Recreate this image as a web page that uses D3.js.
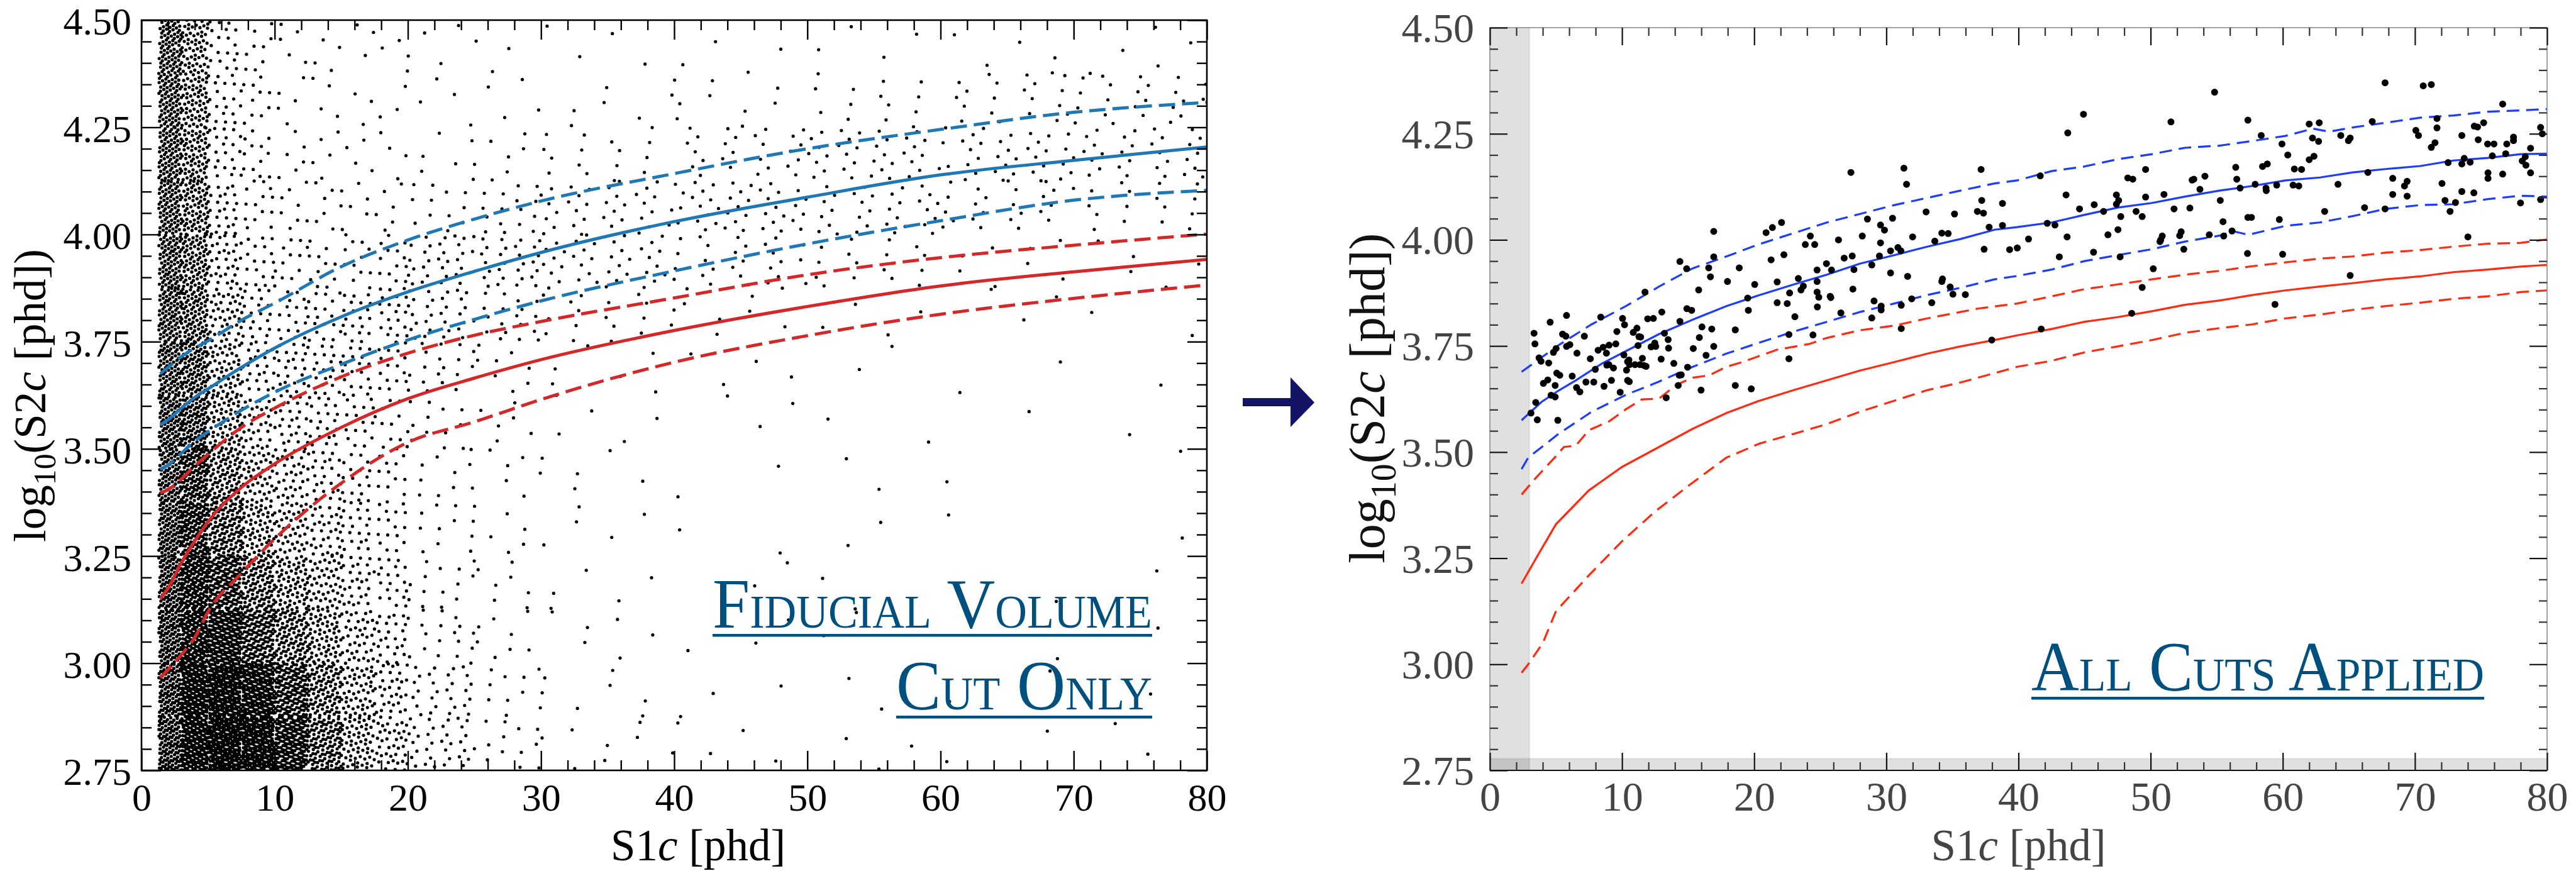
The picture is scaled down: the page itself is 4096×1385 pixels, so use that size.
<!DOCTYPE html>
<html>
<head>
<meta charset="utf-8">
<script src="https://cdn.jsdelivr.net/npm/d3@7"></script>
<style>
  html, body { margin: 0; padding: 0; background: #fff; overflow: hidden; }
  svg { display: block; }
  text { font-family: "Liberation Serif", "Times New Roman", serif; }
</style>
</head>
<body>
<svg id="chart" width="4096" height="1385"></svg>
<script>
// ---- axis ticks ----
const xMajor = [0, 10, 20, 30, 40, 50, 60, 70, 80];
const yMajor = [2.75, 3.00, 3.25, 3.50, 3.75, 4.00, 4.25, 4.50];

// ---- left panel: event density (dots per cell) ----
const leftXEdges = [1.3, 3, 5, 7.5, 10, 12.5, 15, 17.5, 20, 25, 30, 40, 50, 60, 70, 80];
const leftYEdges = [2.75, 2.875, 3.0, 3.125, 3.25, 3.375, 3.5, 3.625, 3.75, 3.875, 4.0, 4.125, 4.25, 4.375, 4.5];
const leftCounts = [
  [125, 200, 250, 240, 190, 120, 65, 40, 34, 12, 8, 4, 3, 2, 2],
  [125, 200, 240, 215, 160, 100, 55, 34, 28, 10, 7, 3, 2, 2, 1],
  [120, 185, 200, 150, 105, 70, 40, 25, 18, 8, 6, 3, 2, 1, 1],
  [115, 170, 165, 110, 75, 50, 30, 20, 14, 7, 5, 2, 2, 1, 1],
  [110, 155, 120, 70, 48, 34, 22, 16, 11, 6, 5, 2, 2, 1, 1],
  [105, 140, 95, 50, 36, 26, 18, 13, 10, 6, 5, 2, 2, 1, 1],
  [100, 120, 70, 36, 28, 22, 16, 12, 12, 6, 5, 3, 2, 1, 1],
  [95, 105, 56, 28, 24, 22, 20, 16, 18, 8, 6, 4, 2, 2, 1],
  [90, 92, 44, 22, 18, 18, 20, 20, 30, 18, 18, 8, 4, 3, 2],
  [88, 82, 34, 17, 12, 11, 12, 13, 30, 28, 40, 26, 16, 8, 5],
  [86, 75, 27, 14, 8, 7, 6, 6, 12, 16, 36, 42, 32, 24, 16],
  [86, 70, 22, 12, 6, 5, 4, 4, 6, 7, 16, 26, 36, 36, 30],
  [86, 66, 20, 10, 5, 4, 3, 3, 4, 4, 6, 9, 14, 20, 24],
  [84, 62, 18, 9, 5, 4, 3, 3, 4, 3, 4, 4, 4, 5, 5]
];

// ---- left panel bands (smooth) ----
const leftBandX = [1.4, 2, 3, 4, 5, 7.5, 10, 15, 20, 25, 30, 40, 50, 60, 70, 80];
const leftBlueUp  = [3.675, 3.69, 3.715, 3.735, 3.752, 3.80, 3.84, 3.925, 3.987, 4.036, 4.078, 4.142, 4.200, 4.245, 4.285, 4.308];
const leftBlueMid = [3.556, 3.568, 3.595, 3.62, 3.64, 3.69, 3.735, 3.808, 3.866, 3.914, 3.958, 4.030, 4.087, 4.139, 4.173, 4.204];
const leftBlueLo  = [3.452, 3.462, 3.49, 3.518, 3.54, 3.59, 3.632, 3.697, 3.754, 3.802, 3.845, 3.915, 3.978, 4.032, 4.080, 4.103];
const leftRedUp   = [3.397, 3.405, 3.43, 3.46, 3.487, 3.55, 3.595, 3.668, 3.723, 3.765, 3.797, 3.852, 3.906, 3.946, 3.975, 4.001];
const leftRedMid  = [3.15, 3.175, 3.235, 3.285, 3.33, 3.41, 3.465, 3.55, 3.617, 3.665, 3.708, 3.776, 3.832, 3.88, 3.913, 3.942];
const leftRedLo   = [2.966, 2.985, 3.02, 3.06, 3.12, 3.21, 3.29, 3.42, 3.515, 3.563, 3.615, 3.702, 3.764, 3.814, 3.851, 3.882];

// ---- right panel bands (binned, jagged) ----
const rightBlueUp = [[2.4,3.689],[5.2,3.752],[7.7,3.801],[10.3,3.844],[12.8,3.890],[15.35,3.933],[17.9,3.961],[20.4,3.990],[23,4.016],[25.5,4.041],[28,4.061],[30.6,4.082],[33.1,4.099],[35.6,4.116],[38.2,4.133],[39.9,4.14],[42.5,4.162],[45,4.173],[47.5,4.19],[50.1,4.202],[52.6,4.217],[55.2,4.222],[57.7,4.233],[60.2,4.245],[62.3,4.262],[63.5,4.255],[65.3,4.265],[67.8,4.276],[70.4,4.288],[72.9,4.293],[75.5,4.302],[78,4.305],[80,4.308]];
const rightBlueMid = [[2.4,3.575],[3.9,3.618],[5.2,3.645],[6.5,3.669],[8.5,3.709],[10.3,3.738],[12.8,3.778],[15.35,3.812],[17.9,3.844],[20.4,3.870],[23,3.895],[25.5,3.918],[28,3.944],[30.6,3.964],[33.1,3.984],[35.6,4.002],[38.2,4.024],[39.9,4.03],[42.5,4.041],[45,4.059],[47.5,4.076],[50.1,4.087],[52.6,4.102],[55.2,4.116],[57.7,4.127],[60.2,4.14],[62.8,4.147],[65.3,4.159],[67.8,4.167],[70.4,4.174],[72.9,4.187],[75.5,4.193],[78,4.202],[80,4.203]];
const rightBlueLo = [[2.4,3.46],[2.9,3.487],[5.2,3.543],[7.7,3.595],[10.3,3.635],[12.8,3.666],[15.35,3.701],[17.9,3.732],[20.4,3.758],[23,3.784],[25.5,3.807],[28,3.83],[30.6,3.85],[33.1,3.87],[35.6,3.887],[38.2,3.907],[39.9,3.915],[42.5,3.93],[45,3.95],[47.5,3.964],[50.1,3.978],[52.6,3.996],[55.2,4.01],[56.3,4.02],[57.4,4.012],[60.2,4.033],[62.8,4.041],[65.3,4.056],[67.8,4.073],[70.4,4.082],[72.9,4.084],[75.5,4.096],[78,4.104],[80,4.102]];
const rightRedUp = [[2.4,3.40],[3.5,3.44],[4.9,3.487],[5.6,3.512],[6.5,3.515],[7.5,3.552],[9,3.572],[10.3,3.601],[11.5,3.624],[12.8,3.626],[14.1,3.658],[15.3,3.675],[16.6,3.681],[17.9,3.701],[19.1,3.712],[21.7,3.741],[24.2,3.755],[25.5,3.769],[28,3.787],[30.6,3.798],[33.1,3.815],[35.6,3.83],[36.9,3.838],[39.9,3.85],[42.5,3.867],[45,3.884],[47.5,3.895],[50.1,3.907],[52.6,3.918],[55.2,3.927],[57.7,3.938],[60.2,3.947],[62.8,3.956],[65.3,3.961],[67.8,3.97],[70.4,3.976],[72.9,3.984],[75.5,3.991],[78,3.993],[80,4.001]];
const rightRedMid = [[2.4,3.19],[3.5,3.25],[5,3.33],[7.5,3.41],[10,3.465],[12.8,3.512],[15.35,3.555],[17.9,3.592],[20.4,3.621],[23,3.646],[25.5,3.669],[28,3.692],[30.6,3.712],[33.1,3.732],[35.6,3.749],[38.2,3.764],[39.9,3.775],[42.5,3.79],[45,3.807],[47.5,3.818],[50.1,3.832],[52.6,3.847],[55.2,3.857],[57.7,3.87],[60.2,3.881],[62.8,3.89],[65.3,3.898],[67.8,3.907],[70.4,3.914],[72.9,3.924],[75.5,3.93],[78,3.937],[80,3.941]];
const rightRedLo = [[2.4,2.98],[2.9,3.0],[4,3.05],[5,3.125],[7.5,3.21],[10,3.29],[12.5,3.36],[15,3.42],[17.9,3.487],[20.4,3.52],[23,3.543],[25.5,3.566],[28,3.595],[30.6,3.621],[33.1,3.646],[35.6,3.664],[38.2,3.686],[39.9,3.701],[42.5,3.715],[45,3.735],[47.5,3.749],[50.1,3.764],[52.6,3.781],[55.2,3.792],[57.7,3.801],[60.2,3.815],[62.8,3.824],[65.3,3.835],[67.8,3.844],[70.4,3.852],[72.9,3.861],[75.5,3.867],[78,3.877],[80,3.881]];

// ---- right panel: events after all cuts ----
const rightEvents = [
  [3.34,3.78],[3.41,3.755],[3.11,3.592],[3.59,3.576],[3.47,3.617],[3.72,3.722],[3.87,3.714],[4.05,3.662],[4.38,3.67],[4.45,3.71],
  [4.56,3.806],[4.81,3.735],[5.01,3.744],[4.94,3.657],[4.63,3.634],[4.94,3.63],[5.06,3.686],[5.29,3.681],[5.14,3.575],[5.5,3.778],
  [5.75,3.773],[5.8,3.822],[5.8,3.749],[6.05,3.753],[6.23,3.679],[6.59,3.733],[6.56,3.652],[6.81,3.642],[7.15,3.773],[7.27,3.665],
  [7.6,3.72],[7.86,3.665],[7.98,3.695],[8.19,3.74],[8.39,3.818],[8.57,3.747],[8.64,3.655],[8.82,3.733],[8.85,3.705],[9.02,3.752],
  [9.0,3.706],[9.2,3.669],[9.35,3.698],[9.53,3.755],[9.61,3.784],[9.86,3.641],[10.04,3.815],[10.19,3.8],[10.14,3.729],[10.34,3.693],
  [10.42,3.713],[10.42,3.669],[10.52,3.717],[10.55,3.666],[10.57,3.706],[10.85,3.782],[10.98,3.706],[11.13,3.792],[11.21,3.751],[11.28,3.772],
  [11.36,3.706],[11.41,3.771],[11.54,3.721],[11.66,3.704],[11.82,3.702],[11.74,3.877],[11.94,3.814],[12.2,3.748],[12.37,3.815],[12.48,3.757],
  [12.55,3.749],[12.96,3.719],[13.01,3.83],[13.21,3.78],[13.34,3.628],[13.49,3.765],[13.52,3.745],[13.92,3.709],[14.25,3.657],[14.33,3.681],
  [14.38,3.808],[14.48,3.682],[14.38,3.949],[14.89,3.932],[14.96,3.7],[14.91,3.838],[15.27,3.834],[15.39,3.744],[15.8,3.882],[15.85,3.77],
  [15.98,3.646],[16.05,3.795],[16.36,3.728],[16.56,3.934],[16.69,3.913],[16.79,3.79],[16.94,3.749],[16.94,3.96],[16.94,4.02],[17.98,3.902],
  [18.57,3.788],[18.57,3.657],[18.87,3.934],[19.51,3.863],[19.56,3.834],[19.78,3.649],[20.04,3.895],[20.9,4.017],[21.28,3.953],[21.38,4.029],
  [21.74,3.901],[21.74,3.852],[22.07,4.041],[22.25,3.965],[22.5,3.85],[22.63,3.777],[22.63,3.72],[22.68,3.875],[23.08,3.819],[23.34,3.909],
  [23.54,3.882],[23.72,3.891],[23.87,3.989],[24.25,4.009],[24.45,3.776],[24.58,3.989],[24.76,3.929],[24.76,3.902],[24.76,3.877],[24.78,3.842],
  [24.89,3.865],[25.47,3.944],[25.75,3.867],[25.85,3.929],[25.8,3.864],[26.38,4.0],[26.56,3.828],[26.81,3.957],[27.32,4.159],[27.42,3.962],
  [27.47,3.884],[27.55,3.93],[28.18,4.009],[28.57,4.049],[28.9,3.941],[28.9,3.816],[29.07,3.856],[29.48,3.962],[29.56,4.035],[29.56,3.993],
  [29.61,3.844],[29.61,3.835],[29.86,4.023],[30.32,3.922],[30.32,3.974],[30.47,4.051],[30.88,3.982],[31.1,3.974],[31.13,3.846],[31.13,3.791],
  [31.33,4.169],[31.53,4.131],[31.61,3.914],[31.92,3.861],[31.99,4.007],[33.01,4.066],[33.44,3.852],[33.67,3.997],[34.2,4.016],[34.2,3.902],
  [34.25,3.908],[34.68,4.015],[34.83,3.889],[35.04,3.872],[35.16,4.061],[35.98,3.871],[36.89,4.067],[37.17,4.166],[37.22,4.093],[37.35,4.063],
  [37.4,3.978],[37.78,4.03],[37.98,3.764],[38.79,4.086],[38.79,4.034],[39.33,3.977],[39.91,3.981],
  [40.76,4.002],[41.65,4.151],[42.18,4.039],[42.76,4.035],[43.09,3.96],[43.6,4.106],[43.68,4.007],[43.73,4.252],[44.62,4.073],[44.92,4.296],
  [45.73,4.083],[45.68,3.971],[46.44,4.067],[46.77,4.012],[47.41,4.106],[47.41,4.084],[47.58,4.093],[47.53,4.024],[47.74,4.055],[47.69,3.96],
  [48.27,4.146],[48.65,4.143],[48.9,4.067],[49.36,4.055],[49.62,4.166],[49.62,4.101],[50.2,3.932],[49.36,3.888],[48.57,3.827],[41.72,3.79],
  [50.71,3.996],[50.76,4.0],[50.88,4.009],[51.01,4.107],[51.54,4.278],[51.77,4.073],[52.2,4.01],[52.31,4.019],[52.51,3.978],[52.97,4.075],
  [53.14,4.141],[53.27,4.143],[53.73,4.119],[54.11,4.15],[54.44,4.012],[54.84,4.348],[55.27,4.093],[55.48,4.043],[55.53,4.009],[56.16,4.021],
  [56.44,4.171],[56.52,4.143],[56.77,4.122],[57.36,4.282],[57.36,4.053],[57.63,4.053],[57.33,3.968],[57.91,4.131],[58.37,4.246],[58.47,4.173],
  [58.75,4.116],[58.83,4.179],[58.73,4.122],[59.41,3.848],[59.54,4.129],[59.74,4.048],[59.94,4.226],[59.99,3.966],[60.38,4.2],[60.78,4.129],
  [60.88,4.167],[61.21,4.127],[61.42,4.166],[62.0,4.273],[62.0,4.189],[62.36,4.197],[62.25,4.24],[62.71,4.232],[62.76,4.276],[63.17,4.067],
  [64.18,4.131],[64.39,4.246],[64.97,4.234],[65.1,4.24],[65.1,3.916],[66.19,4.076],[66.44,4.159],[66.77,4.279],[67.74,4.37],[67.74,4.073],
  [68.32,4.145],[68.32,4.107],[69.21,4.127],[69.41,4.138],[69.41,4.103],[70.07,4.258],[70.27,4.246],[70.63,4.363],[71.24,4.366],[71.24,4.218],
  [71.52,4.229],[71.67,4.264],[71.67,4.286],[72.05,4.133],[72.28,4.093],[72.51,4.182],[72.66,4.067],[73.07,4.088],[73.55,4.246],[73.55,4.114],
  [73.55,4.179],[73.73,4.192],[74.01,4.007],[74.18,4.183],[74.46,4.111],[74.49,4.268],[74.74,4.266],[74.79,4.236],[75.2,4.276],[75.5,4.226],
  [75.53,4.158],[75.53,4.145],[75.86,4.198],[75.98,4.226],[76.64,4.32],[76.64,4.155],[76.87,4.203],[76.95,4.226],[77.46,4.242],[77.46,4.234],
  [77.99,4.087],[78.12,4.186],[78.35,4.196],[78.4,4.176],[78.75,4.216],[78.75,4.158],[79.51,4.265],[79.51,4.095],[79.64,4.25]
];

// S1c / log10 S2 threshold shading in the right panel
const s1Threshold = 3;
const s2Threshold = 2.778;

const svg = d3.select('#chart');
const fmt = d3.format('.2f');
const xMinor = d3.range(0, 81, 2).filter(v => v % 10 !== 0);
const yMinor = d3.range(0, 36).filter(i => i % 5 !== 0).map(i => 2.75 + i * 0.05);

const xL = d3.scaleLinear().domain([0, 80]).range([225, 1919]);
const yL = d3.scaleLinear().domain([2.75, 4.5]).range([1225, 32]);
const xR = d3.scaleLinear().domain([0, 80]).range([2369, 4050]);
const yR = d3.scaleLinear().domain([2.75, 4.5]).range([1225, 44]);

function addClip(id, x, y) {
    svg.append('clipPath').attr('id', id)
        .append('rect')
            .attr('x', x.range()[0]).attr('y', y.range()[1])
            .attr('width', x.range()[1] - x.range()[0])
            .attr('height', y.range()[0] - y.range()[1]);
}
addClip('clipL', xL, yL);
addClip('clipR', xR, yR);

function frameAxes(x, y, st) {
    const [x0, x1] = x.range(), [y1, y0] = y.range();
    const g = svg.append('g');
    ['Bottom', 'Top', 'Left', 'Right'].forEach(function(side) {
        const horiz = side === 'Bottom' || side === 'Top';
        const sc = horiz ? x : y;
        const tx = side === 'Right' ? x1 : (side === 'Left' ? x0 : 0);
        const ty = side === 'Bottom' ? y1 : (side === 'Top' ? y0 : 0);
        const gMin = g.append('g').attr('transform', 'translate(' + tx + ',' + ty + ')')
            .call(d3['axis' + side](sc).tickValues(horiz ? xMinor : yMinor).tickSize(-st.minLen).tickFormat(''));
        const gMaj = g.append('g').attr('transform', 'translate(' + tx + ',' + ty + ')')
            .call(d3['axis' + side](sc).tickValues(horiz ? xMajor : yMajor).tickSize(-st.majLen)
                .tickFormat(side === 'Bottom' ? d3.format('d') : (side === 'Left' ? fmt : '')));
        [gMin, gMaj].forEach(a => a.select('.domain').remove());
        gMin.selectAll('line').attr('stroke', st.minColor).attr('stroke-width', st.tickW);
        gMaj.selectAll('line').attr('stroke', st.majColor).attr('stroke-width', st.tickW);
        if (side === 'Bottom') {
            gMaj.selectAll('text').attr('y', st.xLab).attr('dy', null)
                .attr('font-size', st.fs).attr('fill', st.labColor);
        } else if (side === 'Left') {
            gMaj.selectAll('text').attr('x', -st.yLab).attr('dy', st.yDy)
                .attr('font-size', st.fs).attr('fill', st.labColor);
        }
    });
    return g;
}

// ================= LEFT PANEL =================
const gL = svg.append('g').attr('clip-path', 'url(#clipL)');

// spread each cell's count evenly over the cell
let k = 0;
const leftDots = [];
leftCounts.forEach(function(row, j) {
    row.forEach(function(n, i) {
        for (let m = 0; m < n; m++, k++) {
            const u = (0.5 + k * 0.7548776662) % 1;
            const v = (0.5 + k * 0.5698402910) % 1;
            leftDots.push([
                leftXEdges[i] + u * (leftXEdges[i + 1] - leftXEdges[i]),
                leftYEdges[j] + v * (leftYEdges[j + 1] - leftYEdges[j])
            ]);
        }
    });
});

gL.selectAll('circle.ev')
    .data(leftDots)
    .enter()
    .append('circle')
        .attr('cx', d => xL(d[0]))
        .attr('cy', d => yL(d[1]))
        .attr('r', 2.6)
        .attr('fill', '#000');

const lineL = d3.line()
    .x((d, i) => xL(leftBandX[i]))
    .y(d => yL(d))
    .curve(d3.curveMonotoneX);

[
    [leftRedLo, '#d62728', true], [leftRedUp, '#d62728', true], [leftRedMid, '#d62728', false],
    [leftBlueLo, '#1f77b4', true], [leftBlueUp, '#1f77b4', true], [leftBlueMid, '#1f77b4', false]
].forEach(function(c) {
    gL.append('path')
        .attr('d', lineL(c[0]))
        .attr('fill', 'none')
        .attr('stroke', c[1])
        .attr('stroke-width', 5)
        .attr('stroke-dasharray', c[2] ? '26,11' : null);
});

svg.append('rect')
    .attr('x', xL(0)).attr('y', yL(4.5))
    .attr('width', xL(80) - xL(0)).attr('height', yL(2.75) - yL(4.5))
    .attr('fill', 'none').attr('stroke', '#000').attr('stroke-width', 2.6);

frameAxes(xL, yL, {majLen: 31, minLen: 16, tickW: 2.4, majColor: '#000', minColor: '#000',
    fs: 62, labColor: '#000', xLab: 64, yLab: 16, yDy: '0.37em'});

// ================= RIGHT PANEL =================
const gR = svg.append('g').attr('clip-path', 'url(#clipR)');

gR.append('rect')
    .attr('x', xR(0)).attr('y', yR(4.5))
    .attr('width', xR(s1Threshold) - xR(0)).attr('height', yR(2.75) - yR(4.5))
    .attr('fill', '#000').attr('fill-opacity', 0.12);
gR.append('rect')
    .attr('x', xR(0)).attr('y', yR(s2Threshold))
    .attr('width', xR(80) - xR(0)).attr('height', yR(2.75) - yR(s2Threshold))
    .attr('fill', '#000').attr('fill-opacity', 0.12);
gR.append('line')
    .attr('x1', xR(s1Threshold)).attr('x2', xR(s1Threshold))
    .attr('y1', yR(4.5)).attr('y2', yR(2.75))
    .attr('stroke', '#000').attr('stroke-opacity', 0.05).attr('stroke-width', 3);
gR.append('line')
    .attr('x1', xR(0)).attr('x2', xR(80))
    .attr('y1', yR(s2Threshold)).attr('y2', yR(s2Threshold))
    .attr('stroke', '#000').attr('stroke-opacity', 0.05).attr('stroke-width', 3);

const lineR = d3.line()
    .x(d => xR(d[0]))
    .y(d => yR(d[1]));

[
    [rightRedLo, '#ff2a10', true], [rightRedUp, '#ff2a10', true], [rightRedMid, '#ff2a10', false],
    [rightBlueLo, '#1c3cff', true], [rightBlueUp, '#1c3cff', true], [rightBlueMid, '#1c3cff', false]
].forEach(function(c) {
    gR.append('path')
        .attr('d', lineR(c[0]))
        .attr('fill', 'none')
        .attr('stroke', c[1])
        .attr('stroke-width', 3.2)
        .attr('stroke-dasharray', c[2] ? '20,11' : null);
});

gR.selectAll('circle.ev')
    .data(rightEvents)
    .enter()
    .append('circle')
        .attr('cx', d => xR(d[0]))
        .attr('cy', d => yR(d[1]))
        .attr('r', 5.5)
        .attr('fill', '#000');

svg.append('rect')
    .attr('x', xR(0)).attr('y', yR(4.5))
    .attr('width', xR(80) - xR(0)).attr('height', yR(2.75) - yR(4.5))
    .attr('fill', 'none').attr('stroke', '#8a8a8a').attr('stroke-width', 1.6);
svg.append('line')
    .attr('x1', xR(0)).attr('x2', xR(80)).attr('y1', yR(2.75)).attr('y2', yR(2.75))
    .attr('stroke', '#111').attr('stroke-width', 1.8);

frameAxes(xR, yR, {majLen: 28, minLen: 13, tickW: 2.2, majColor: '#111', minColor: '#333',
    fs: 66, labColor: '#444', xLab: 64, yLab: 25, yDy: '0.34em'});

// ================= TITLES =================
function yTitle(x, y, size, color) {
    const t = svg.append('text')
        .attr('transform', 'translate(' + x + ',' + y + ') rotate(-90)')
        .attr('text-anchor', 'middle')
        .attr('font-size', size)
        .attr('fill', color);
    t.append('tspan').text('log');
    t.append('tspan').attr('font-size', size * 0.7).attr('dy', size * 0.22).text('10');
    t.append('tspan').attr('dy', -size * 0.22).text('(S2');
    t.append('tspan').attr('font-style', 'italic').text('c');
    t.append('tspan').text(' [phd])');
}
function xTitle(x, y, size, color) {
    const t = svg.append('text')
        .attr('x', x).attr('y', y)
        .attr('text-anchor', 'middle')
        .attr('font-size', size)
        .attr('fill', color);
    t.append('tspan').text('S1');
    t.append('tspan').attr('font-style', 'italic').text('c');
    t.append('tspan').text(' [phd]');
}
yTitle(72, 629, 71, '#000');
yTitle(2201, 633, 80, '#111');
xTitle(1110, 1368, 71, '#000');
xTitle((xR(0) + xR(80)) / 2, 1368, 71, '#444');

// ================= SMALL-CAPS LABELS =================
const labelBlue = '#00507f';
function smallCaps(x0, x1, baseline, words, big, small) {
    const t = svg.append('text')
        .attr('x', x0).attr('y', baseline)
        .attr('fill', labelBlue)
        .attr('font-size', big)
        .attr('textLength', x1 - x0)
        .attr('lengthAdjust', 'spacingAndGlyphs');
    words.forEach(function(w, i) {
        t.append('tspan').attr('font-size', big).text((i > 0 ? ' ' : '') + w[0]);
        t.append('tspan').attr('font-size', small).text(w.slice(1));
    });
    svg.append('rect')
        .attr('x', x0).attr('y', baseline + 10)
        .attr('width', x1 - x0).attr('height', 4.5)
        .attr('fill', labelBlue);
}
smallCaps(1133, 1832, 998, ['FIDUCIAL', 'VOLUME'], 112, 74);
smallCaps(1425, 1832, 1128, ['CUT', 'ONLY'], 112, 74);
smallCaps(3230, 3950, 1098, ['ALL', 'CUTS', 'APPLIED'], 112, 74);

// ================= ARROW =================
svg.append('path')
    .attr('d', 'M1976,633 L2052,633 L2052,600 L2090,640 L2052,679 L2052,646 L1976,646 Z')
    .attr('fill', '#141466');
</script>
</body>
</html>
